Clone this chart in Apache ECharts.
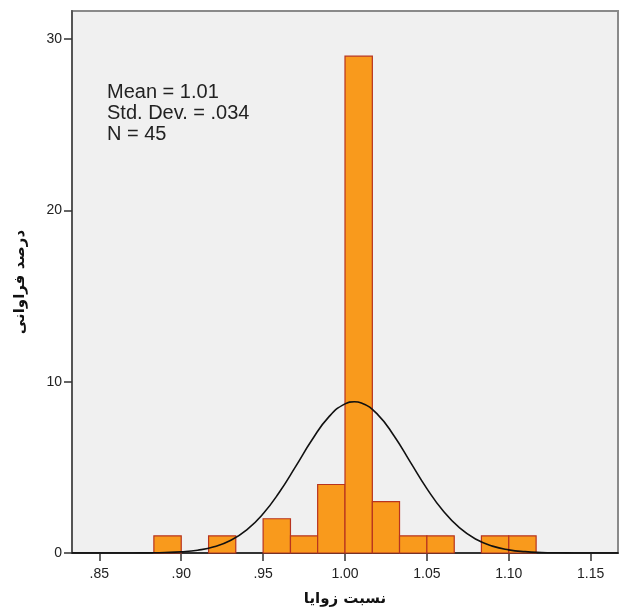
<!DOCTYPE html>
<html>
<head>
<meta charset="utf-8">
<script src="https://cdn.jsdelivr.net/npm/echarts@6/dist/echarts.min.js"></script>
<style>
html,body{margin:0;padding:0;background:#fff;}
#c{width:619px;height:612px;}
</style>
</head>
<body>
<div id="c"></div>
<script>
// Histogram bins (lower and upper edges) and counts
const binLow  = [0.8833, 0.9167, 0.9500, 0.9667, 0.9833, 1.0000, 1.0167, 1.0333, 1.0500, 1.0833, 1.1000];
const binHigh = [0.9000, 0.9333, 0.9667, 0.9833, 1.0000, 1.0167, 1.0333, 1.0500, 1.0667, 1.1000, 1.1167];
const counts  = [1, 1, 2, 1, 4, 29, 3, 1, 1, 1, 1];

// Normal curve points
const curveX = [0.8333, 0.84, 0.85, 0.86, 0.87, 0.88, 0.89, 0.90, 0.91, 0.92, 0.93, 0.94, 0.95, 0.96, 0.97, 0.98, 0.99, 1.00, 1.0057, 1.01, 1.02, 1.03, 1.04, 1.05, 1.06, 1.07, 1.08, 1.09, 1.10, 1.11, 1.12, 1.13, 1.14, 1.15, 1.16, 1.1667];
const curveY = [0.000, 0.000, 0.000, 0.001, 0.003, 0.009, 0.026, 0.068, 0.164, 0.362, 0.730, 1.350, 2.290, 3.559, 5.072, 6.624, 7.932, 8.706, 8.830, 8.759, 8.079, 6.829, 5.293, 3.760, 2.448, 1.461, 0.799, 0.401, 0.184, 0.078, 0.030, 0.011, 0.003, 0.001, 0.000, 0.000];

// Axis ticks
const xTickValues = [0.85, 0.90, 0.95, 1.00, 1.05, 1.10, 1.15];
const xTickLabels = ['.85', '.90', '.95', '1.00', '1.05', '1.10', '1.15'];
const yTickValues = [0, 10, 20, 30];

const statsLines = ['Mean = 1.01', 'Std. Dev. = .034', 'N = 45'];
const xName = 'نسبت زوایا';
const yName = 'درصد فراوانی';

const chart = echarts.init(document.getElementById('c'), null, {renderer: 'canvas'});

const barData = binLow.map((lo, i) => [lo, binHigh[i], counts[i]]);
const curveData = curveX.map((x, i) => [x, curveY[i]]);

const option = {
  animation: false,
  backgroundColor: '#ffffff',
  grid: {
    left: 72, right: 1, top: 11, bottom: 59,
    outerBoundsMode: 'none',
    containLabel: false,
    show: true, backgroundColor: '#F0F0F0', borderColor: '#8a8a8a', borderWidth: 2
  },
  xAxis: {
    type: 'value',
    min: 0.8333, max: 1.1667,
    name: xName,
    nameLocation: 'middle',
    nameGap: 39,
    nameTextStyle: {fontFamily: 'DejaVu Sans', fontWeight: 'bold', fontSize: 15, color: '#111'},
    axisLine: {show: true, onZero: false, lineStyle: {color: '#333', width: 2}},
    axisTick: {show: true, length: 8, customValues: xTickValues, lineStyle: {color: '#333', width: 1.5}},
    axisLabel: {
      customValues: xTickValues,
      margin: 14,
      fontFamily: 'Liberation Sans, Arial', fontSize: 14, color: '#222',
      formatter: function (v) {
        const idx = xTickValues.findIndex(t => Math.abs(t - v) < 1e-6);
        return idx >= 0 ? xTickLabels[idx] : '';
      }
    },
    splitLine: {show: false}
  },
  yAxis: {
    type: 'value',
    min: 0, max: 31.64,
    name: yName,
    nameLocation: 'middle',
    nameGap: 44,
    nameRotate: 90,
    nameTextStyle: {fontFamily: 'DejaVu Sans', fontWeight: 'bold', fontSize: 15, color: '#111'},
    axisLine: {show: true, lineStyle: {color: '#555', width: 2}},
    axisTick: {show: true, length: 8, customValues: yTickValues, lineStyle: {color: '#333', width: 1.5}},
    axisLabel: {
      customValues: yTickValues,
      margin: 10,
      fontFamily: 'Liberation Sans, Arial', fontSize: 14, color: '#222'
    },
    splitLine: {show: false}
  },
  series: [
    {
      type: 'custom',
      data: barData,
      encode: {x: [0, 1], y: 2},
      renderItem: function (params, api) {
        const p0 = api.coord([api.value(0), 0]);
        const p1 = api.coord([api.value(1), api.value(2)]);
        return {
          type: 'rect',
          shape: {x: p0[0], y: p1[1], width: p1[0] - p0[0], height: p0[1] - p1[1]},
          style: {fill: '#F99A1C', stroke: '#B8341F', lineWidth: 1.2}
        };
      },
      z: 2
    },
    {
      type: 'line',
      data: curveData,
      smooth: true,
      showSymbol: false,
      symbol: 'none',
      lineStyle: {color: '#111', width: 1.6},
      z: 3
    }
  ],
  graphic: [
    {
      type: 'text',
      left: 107, top: 82,
      style: {
        text: statsLines.join('\n'),
        font: '20px "Liberation Sans", Arial, sans-serif',
        lineHeight: 21,
        fill: '#222'
      },
      z: 10
    }
  ]
};

chart.setOption(option);
</script>
</body>
</html>
